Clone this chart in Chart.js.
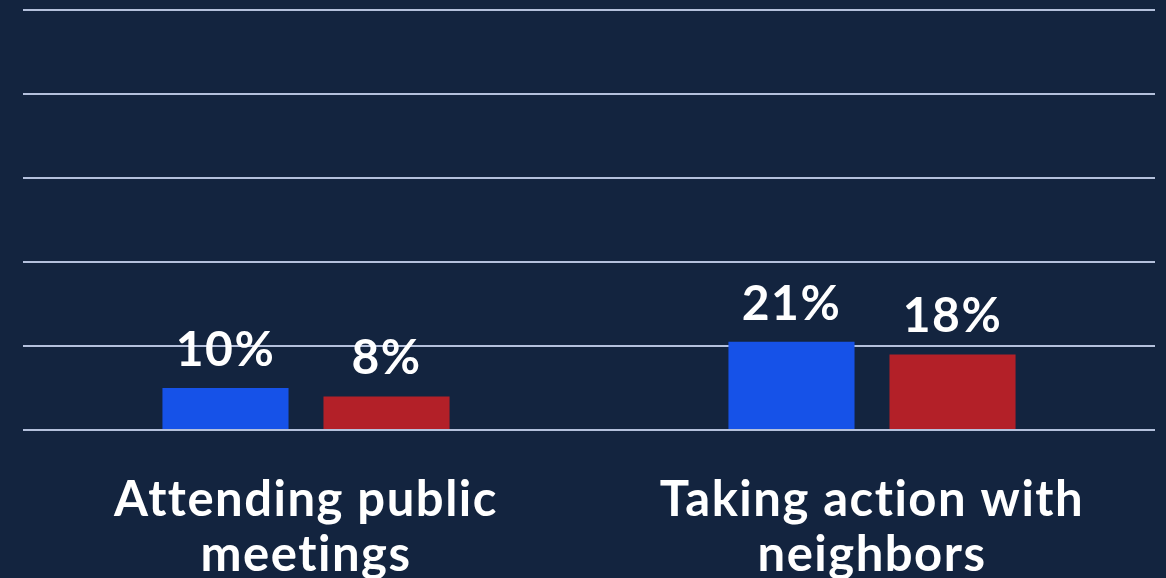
<!DOCTYPE html>
<html>
<head>
    <title>Civic participation</title>
    <script src="https://cdn.jsdelivr.net/npm/chart.js"></script>
    <style>
        html, body { margin: 0; padding: 0; background: #13243f; }
        #wrap { width: 1166px; height: 578px; }
    </style>
</head>
<body>
    <div id="wrap">
        <canvas id="participationChart"></canvas>
    </div>
    <script>
        // Categories and values (percent)
        const categories = [['Attending public', 'meetings'], ['Taking action with', 'neighbors']];
        const blueValues = [10, 21];
        const redValues = [8, 18];
        const yTicks = [0, 20, 40, 60, 80, 100];

        const FONT = 'Lato, "Open Sans", sans-serif';

        // Slight tracking on all text (also keeps "tt" from joining)
        const tracking = {
            id: 'tracking',
            beforeDraw(chart) {
                chart.ctx.letterSpacing = '1.5px';
            }
        };

        // Writes the percent label above each bar
        const valueLabels = {
            id: 'valueLabels',
            afterDatasetsDraw(chart) {
                const ctx = chart.ctx;
                ctx.save();
                ctx.fillStyle = '#ffffff';
                ctx.font = 'bold 48px ' + FONT;
                ctx.textAlign = 'center';
                ctx.textBaseline = 'alphabetic';
                chart.data.datasets.forEach((ds, i) => {
                    chart.getDatasetMeta(i).data.forEach((bar, j) => {
                        ctx.fillText(ds.data[j] + '%', bar.x, bar.y - 22);
                    });
                });
                ctx.restore();
            }
        };

        const ctx = document.getElementById('participationChart').getContext('2d');
        const chart = new Chart(ctx, {
            type: 'bar',
            data: {
                labels: categories,
                datasets: [
                    {
                        label: 'Blue',
                        data: blueValues,
                        backgroundColor: '#1652e8',
                        barPercentage: 0.783,
                        categoryPercentage: 0.569,
                    },
                    {
                        label: 'Red',
                        data: redValues,
                        backgroundColor: '#b32028',
                        barPercentage: 0.783,
                        categoryPercentage: 0.569,
                    },
                ],
            },
            options: {
                responsive: true,
                maintainAspectRatio: false,
                animation: false,
                layout: {
                    padding: { top: 10, left: 23, right: 11, bottom: 0 },
                },
                plugins: {
                    legend: { display: false },
                    tooltip: { enabled: false },
                },
                scales: {
                    x: {
                        grid: { display: false, drawTicks: false },
                        border: { display: false },
                        ticks: {
                            color: '#ffffff',
                            font: { family: FONT, size: 49, weight: 'bold', lineHeight: 55 / 49 },
                            padding: 43,
                            maxRotation: 0,
                            autoSkip: false,
                        },
                        // label block runs off the bottom edge, so fix the axis height
                        afterFit(scale) {
                            scale.height = 148;
                        },
                    },
                    y: {
                        min: yTicks[0],
                        max: yTicks[yTicks.length - 1],
                        afterBuildTicks(axis) {
                            axis.ticks = yTicks.map(v => ({ value: v }));
                        },
                        grid: { color: '#b4c0dc', lineWidth: 2, drawTicks: false },
                        border: { display: false },
                        ticks: { display: false },
                    },
                },
            },
            plugins: [tracking, valueLabels],
        });
    </script>
</body>
</html>
